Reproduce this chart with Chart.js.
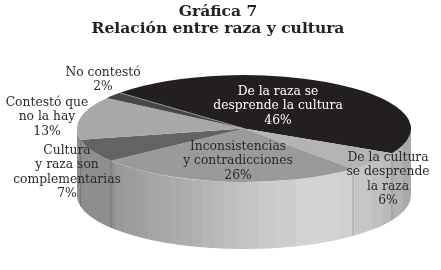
<!DOCTYPE html>
<html>
<head>
<meta charset="utf-8">
<title>Gráfica 7</title>
<script src="https://cdn.jsdelivr.net/npm/chart.js@4/dist/chart.umd.min.js"></script>
<style>
    html, body { margin: 0; padding: 0; background: #fff; }
    canvas { display: block; filter: blur(0.35px); }
</style>
</head>
<body>
<canvas id="chart" width="436" height="270"></canvas>
<script>
// Data
const categories = [
    'De la raza se desprende la cultura',
    'De la cultura se desprende la raza',
    'Inconsistencias y contradicciones',
    'Cultura y raza son complementarias',
    'Contestó que no la hay',
    'No contestó'
];
const values = [46, 6, 26, 7, 13, 2];
const labelLines = [
    ['De la raza se', 'desprende la cultura'],
    ['De la cultura', 'se desprende', 'la raza'],
    ['Inconsistencias', 'y contradicciones'],
    ['Cultura', 'y raza son', 'complementarias'],
    ['Contestó que', 'no la hay'],
    ['No contestó']
];
const titleLines = ['Gráfica 7', 'Relación entre raza y cultura'];

// Styles
const sliceColors = ['#231f20', '#b3b3b3', '#9a9a9a', '#636363', '#a8a8a8', '#474747'];
const labelColors = ['#ffffff', '#2a2a2a', '#2a2a2a', '#2a2a2a', '#2a2a2a', '#2a2a2a'];
const labelAnchors = [[278, 92], [388, 158], [238, 147], [67, 151], [47, 103], [103, 73]];
const labelLineHeight = 14.3;
const pieShiftX = 52; // the pie sits right of the centred title
const tilt = 0.32;
const wallDepth = 67;
// facets of the side wall: [start x in px, grey]
const wallBands = [
    [77, '#8e8e8e'], [115, '#999999'], [123, '#9c9c9c'], [137, '#a0a0a0'], [148, '#a5a5a5'],
    [160, '#a8a8a8'], [170, '#ababab'], [182, '#aeaeae'], [192, '#b2b2b2'], [202, '#b6b6b6'],
    [213, '#b9b9b9'], [223, '#bdbdbd'], [235, '#c1c1c1'], [247, '#c5c5c5'], [258, '#c9c9c9'],
    [275, '#cdcdcd'], [296, '#d3d3d3'], [340, '#d0d0d0'], [355, '#c6c6c6'], [372, '#c0c0c0'],
    [383, '#bababa'], [393, '#b2b2b2'], [403, '#a9a9a9']
];

// Side wall of the disc, then squash the slices into an ellipse
const tiltPlugin = {
    id: 'tilt',
    afterLayout(chart) {
        chart.chartArea.left += pieShiftX;
    },
    beforeDatasetsDraw(chart) {
        const ctx = chart.ctx;
        const arcs = chart.getDatasetMeta(0).data;
        const { x, y, outerRadius } = arcs[0];
        const ry = outerRadius * tilt;
        const left = x - outerRadius;
        const width = outerRadius * 2;

        const gradient = ctx.createLinearGradient(left, 0, left + width, 0);
        wallBands.forEach((band, i) => {
            const next = i + 1 < wallBands.length ? wallBands[i + 1][0] : left + width;
            gradient.addColorStop(Math.max(0, (band[0] - left) / width), band[1]);
            gradient.addColorStop(Math.min(1, (next - left) / width), band[1]);
        });
        ctx.save();
        ctx.beginPath();
        ctx.ellipse(x, y, outerRadius, ry, 0, 0, Math.PI);
        ctx.ellipse(x, y + wallDepth, outerRadius, ry, 0, Math.PI, 0, true);
        ctx.closePath();
        ctx.fillStyle = gradient;
        ctx.fill();

        // seams under the slice boundaries that face the viewer
        ctx.strokeStyle = 'rgba(90, 90, 90, 0.6)';
        ctx.lineWidth = 0.7;
        arcs.forEach(arc => {
            const sin = Math.sin(arc.startAngle);
            if (sin <= 0) return;
            const px = x + Math.cos(arc.startAngle) * outerRadius;
            const py = y + sin * ry;
            ctx.beginPath();
            ctx.moveTo(px, py);
            ctx.lineTo(px, py + wallDepth);
            ctx.stroke();
        });
        ctx.restore();

        ctx.save();
        ctx.translate(x, y);
        ctx.scale(1, tilt);
        ctx.translate(-x, -y);
    },
    afterDatasetsDraw(chart) {
        chart.ctx.restore();

        const ctx = chart.ctx;
        const arcs = chart.getDatasetMeta(0).data;
        const { x, y, outerRadius, startAngle } = arcs[0];

        // light edge along the start of the dark slice
        ctx.save();
        ctx.strokeStyle = '#b5b5b5';
        ctx.lineWidth = 0.6;
        ctx.beginPath();
        ctx.moveTo(x, y);
        ctx.lineTo(x + Math.cos(startAngle) * outerRadius, y + Math.sin(startAngle) * outerRadius * tilt);
        ctx.stroke();

        // Labels
        ctx.font = '12.3px "DejaVu Serif"';
        ctx.textAlign = 'center';
        ctx.textBaseline = 'middle';
        labelLines.forEach((lines, i) => {
            const [lx, ly] = labelAnchors[i];
            ctx.fillStyle = labelColors[i];
            lines.concat(values[i] + '%').forEach((line, j) => {
                ctx.fillText(line, lx, ly + j * labelLineHeight);
            });
        });
        ctx.restore();
    }
};

new Chart(document.getElementById('chart'), {
    type: 'pie',
    data: {
        labels: categories,
        datasets: [{
            data: values,
            backgroundColor: sliceColors,
            borderWidth: 0,
            clip: false
        }]
    },
    options: {
        responsive: false,
        animation: false,
        rotation: -48,
        radius: 167,
        layout: { padding: { bottom: 50 } },
        events: [],
        plugins: {
            legend: { display: false },
            tooltip: { enabled: false },
            title: {
                display: true,
                text: titleLines,
                color: '#222222',
                font: { family: '"DejaVu Serif"', size: 15.5, weight: 'bold', lineHeight: 1.1 },
                padding: { top: 3, bottom: 0 }
            }
        }
    },
    plugins: [tiltPlugin]
});
</script>
</body>
</html>
